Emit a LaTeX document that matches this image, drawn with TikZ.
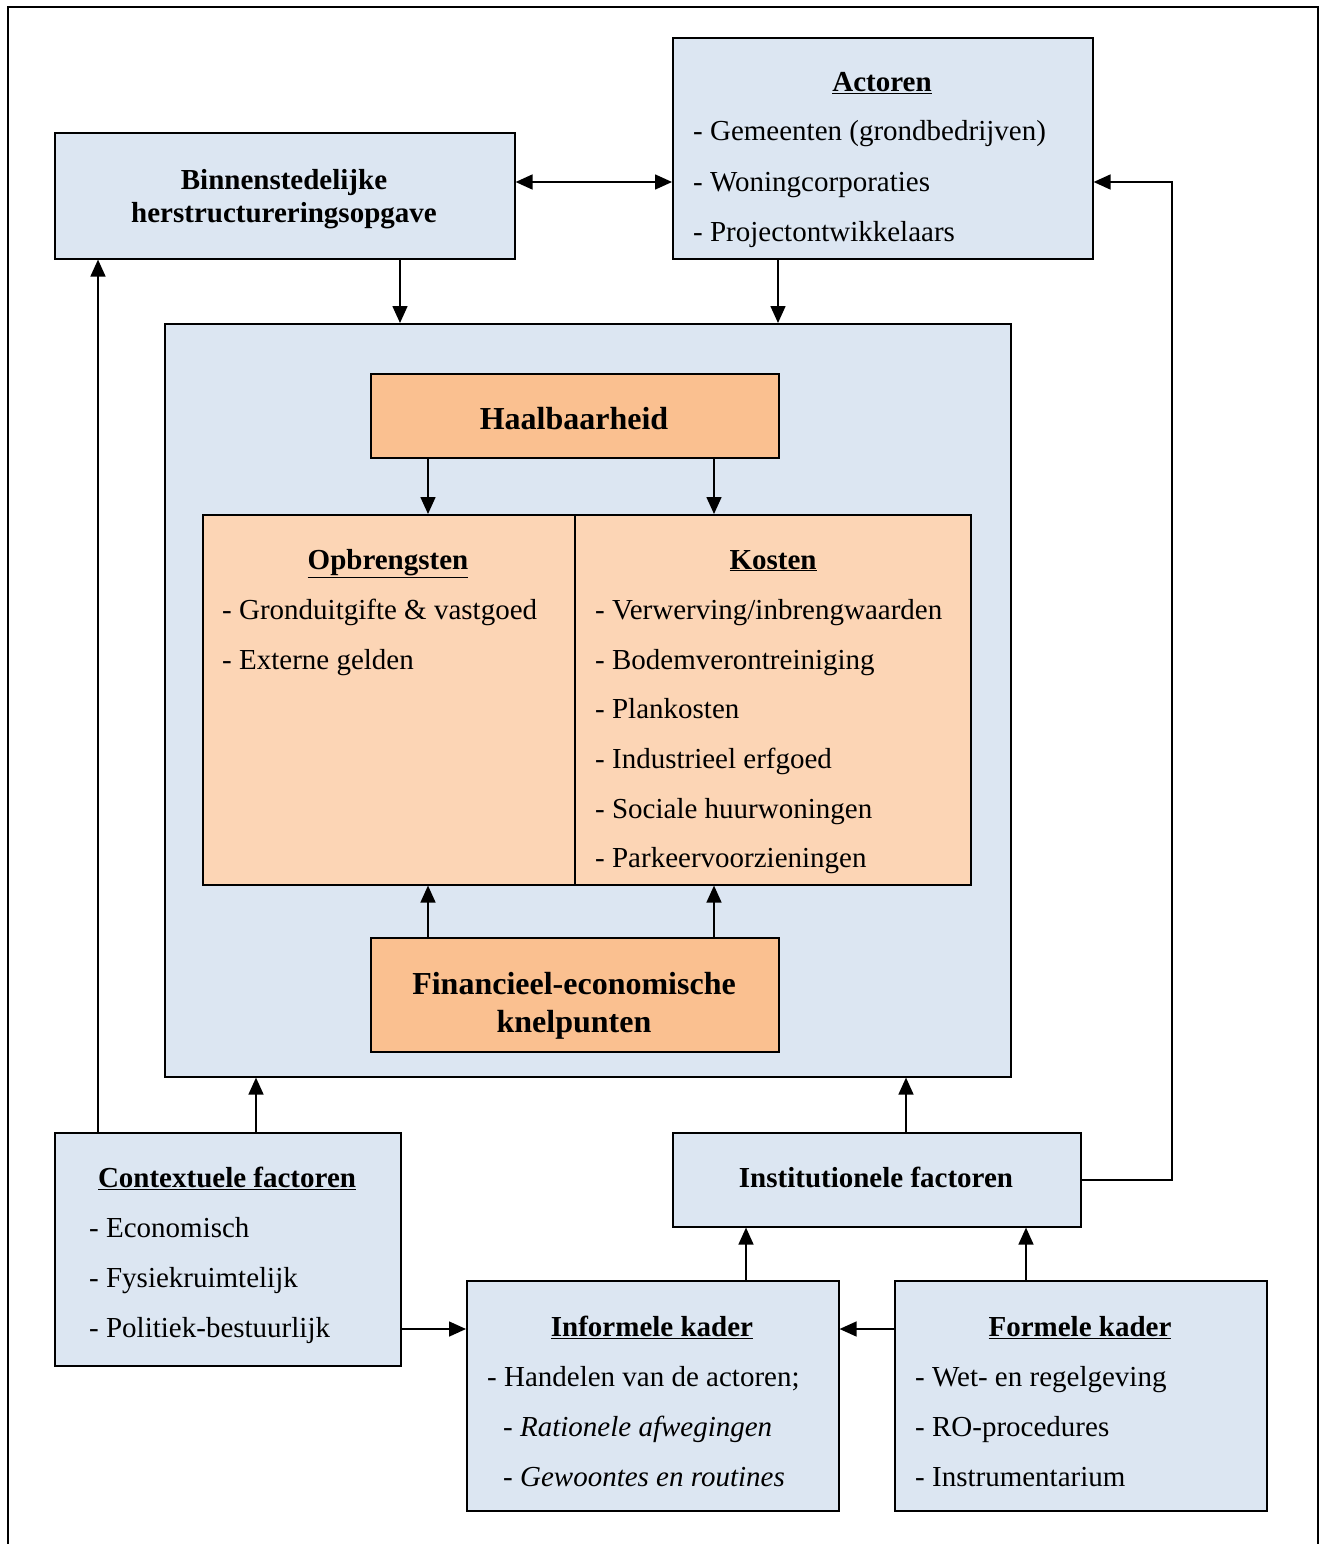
\documentclass[tikz,border=0pt]{standalone}
\usepackage{fontspec}
\setmainfont{Liberation Serif}
\usetikzlibrary{arrows.meta}

\definecolor{boxblue}{HTML}{DCE6F2}
\definecolor{darkorange}{HTML}{FAC090}
\definecolor{lightorange}{HTML}{FCD5B5}

\tikzset{
  box/.style={draw, line width=1.6pt, anchor=north west, inner sep=0pt},
  bluebox/.style={box, fill=boxblue},
  orangebox/.style={box, fill=darkorange},
  lightbox/.style={box, fill=lightorange},
  txt/.style={anchor=base west, inner sep=0pt, yshift=-2pt, font=\fontsize{29}{33}\selectfont},
  ttl/.style={anchor=base, inner sep=0pt, yshift=-2pt, font=\fontsize{29}{33}\selectfont\bfseries},
  big/.style={anchor=base, inner sep=0pt, yshift=-1pt, font=\fontsize{32}{38}\selectfont\bfseries},
  arr/.style={line width=1.6pt, -{Triangle[length=17pt,width=15pt]}},
  dblarr/.style={line width=1.6pt, {Triangle[length=17pt,width=15pt]}-{Triangle[length=17pt,width=15pt]}},
}

\begin{document}
\begin{tikzpicture}[x=1pt, y=-1pt]
    \useasboundingbox (0,0) rectangle (1319,1544);

    % outer frame
    \draw[line width=1.8pt] (8,1544) -- (8,7) -- (1318,7) -- (1318,1544);

    % boxes
    \node[bluebox, minimum width=460pt, minimum height=126pt] (binnen) at (54,132) {};
    \node[bluebox, minimum width=420pt, minimum height=221pt] (actoren) at (672,37) {};
    \node[bluebox, minimum width=846pt, minimum height=753pt] (kern) at (164,323) {};
    \node[orangebox, minimum width=408pt, minimum height=84pt] (haal) at (370,373) {};
    \node[lightbox, minimum width=372pt, minimum height=370pt] (opbr) at (202,514) {};
    \node[lightbox, minimum width=396pt, minimum height=370pt] (kosten) at (574,514) {};
    \node[orangebox, minimum width=408pt, minimum height=114pt] (fin) at (370,937) {};
    \node[bluebox, minimum width=346pt, minimum height=233pt] (context) at (54,1132) {};
    \node[bluebox, minimum width=408pt, minimum height=94pt] (inst) at (672,1132) {};
    \node[bluebox, minimum width=372pt, minimum height=230pt] (informeel) at (466,1280) {};
    \node[bluebox, minimum width=372pt, minimum height=230pt] (formeel) at (894,1280) {};

    % texts
    \node[ttl] (binnen1) at (284,187) {Binnenstedelijke};
    \node[ttl] (binnen2) at (284,220) {herstructureringsopgave};

    \node[ttl] (actorentitel) at (882,90) {\underline{Actoren}};
    \node[txt] (act1) at (693,139) {- Gemeenten (grondbedrijven)};
    \node[txt] (act2) at (693,189) {- Woningcorporaties};
    \node[txt] (act3) at (693,239) {- Projectontwikkelaars};

    \node[big] (haaltekst) at (574,428) {Haalbaarheid};

    \node[ttl] (opbrtitel) at (388,567) {\underline{Opbrengsten}};
    \node[txt] (opbr1) at (222,617) {- Gronduitgifte \& vastgoed};
    \node[txt] (opbr2) at (222,667) {- Externe gelden};

    \node[ttl] (kostentitel) at (773,567) {\underline{Kosten}};
    \node[txt] (kost1) at (595,617) {- Verwerving/inbrengwaarden};
    \node[txt] (kost2) at (595,667) {- Bodemverontreiniging};
    \node[txt] (kost3) at (595,716) {- Plankosten};
    \node[txt] (kost4) at (595,766) {- Industrieel erfgoed};
    \node[txt] (kost5) at (595,816) {- Sociale huurwoningen};
    \node[txt] (kost6) at (595,865) {- Parkeervoorzieningen};

    \node[big] (fin1) at (574,993) {Financieel-economische};
    \node[big] (fin2) at (574,1031) {knelpunten};

    \node[ttl] (contexttitel) at (227,1185) {\underline{Contextuele factoren}};
    \node[txt] (ctx1) at (89,1235) {- Economisch};
    \node[txt] (ctx2) at (89,1285) {- Fysiekruimtelijk};
    \node[txt] (ctx3) at (89,1335) {- Politiek-bestuurlijk};

    \node[ttl] (insttekst) at (876,1185) {Institutionele factoren};

    \node[ttl] (informeeltitel) at (652,1334) {\underline{Informele kader}};
    \node[txt] (inf1) at (487,1384) {- Handelen van de actoren;};
    \node[txt] (inf2) at (503,1434) {- \textit{Rationele afwegingen}};
    \node[txt] (inf3) at (503,1484) {- \textit{Gewoontes en routines}};

    \node[ttl] (formeeltitel) at (1080,1334) {\underline{Formele kader}};
    \node[txt] (form1) at (915,1384) {- Wet- en regelgeving};
    \node[txt] (form2) at (915,1434) {- RO-procedures};
    \node[txt] (form3) at (915,1484) {- Instrumentarium};

    % connector positions
    \coordinate (top) at (0,182);
    \coordinate (bottom) at (0,1329);
    \coordinate (xa) at (400,0);
    \coordinate (xb) at (778,0);
    \coordinate (xc) at (428,0);
    \coordinate (xd) at (714,0);
    \coordinate (xe) at (98,0);
    \coordinate (xf) at (256,0);
    \coordinate (xg) at (906,0);
    \coordinate (xh) at (746,0);
    \coordinate (xi) at (1026,0);
    \coordinate (elbow) at (1172,182);

    % connectors
    \draw[dblarr] (binnen.east |- top) -- (actoren.west |- top);
    \draw[arr] (binnen.south -| xa) -- (kern.north -| xa);
    \draw[arr] (actoren.south -| xb) -- (kern.north -| xb);
    \draw[arr] (haal.south -| xc) -- (opbr.north -| xc);
    \draw[arr] (haal.south -| xd) -- (kosten.north -| xd);
    \draw[arr] (fin.north -| xc) -- (opbr.south -| xc);
    \draw[arr] (fin.north -| xd) -- (kosten.south -| xd);
    \draw[arr] (context.north -| xe) -- (binnen.south -| xe);
    \draw[arr] (context.north -| xf) -- (kern.south -| xf);
    \draw[arr] (inst.north -| xg) -- (kern.south -| xg);
    \draw[arr] (inst.east) -- (inst.east -| elbow) -- (elbow) -- (actoren.east |- elbow);
    \draw[arr] (context.east |- bottom) -- (informeel.west |- bottom);
    \draw[arr] (formeel.west |- bottom) -- (informeel.east |- bottom);
    \draw[arr] (informeel.north -| xh) -- (inst.south -| xh);
    \draw[arr] (formeel.north -| xi) -- (inst.south -| xi);
\end{tikzpicture}
\end{document}
